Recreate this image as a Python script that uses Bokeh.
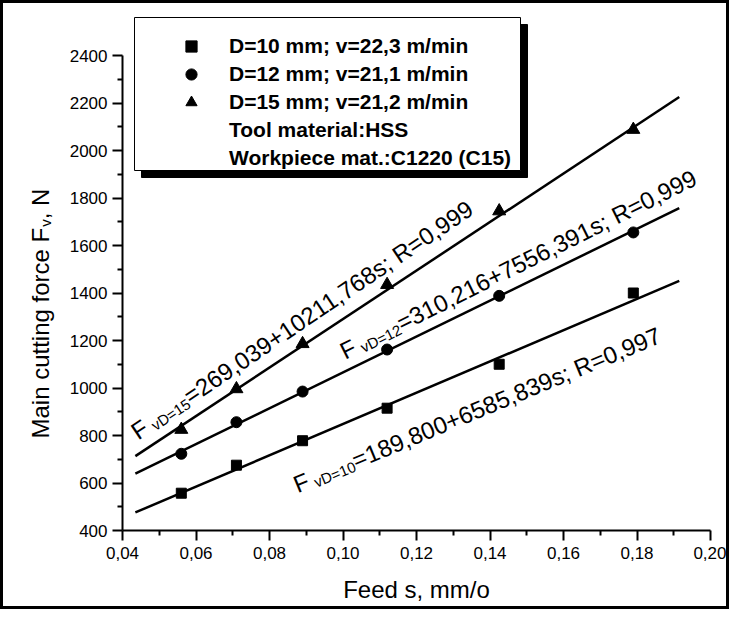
import math
from bokeh.plotting import figure
from bokeh.models import (Label, Range1d, FixedTicker, CustomJSTickFormatter,
                          Legend, LegendItem, BoxAnnotation)
from bokeh.embed import file_html
from bokeh.resources import INLINE

# ---------------- data ----------------
feed = [0.056, 0.071, 0.089, 0.112, 0.1425, 0.179]
force_d10 = [557, 675, 778, 915, 1100, 1400]
force_d12 = [723, 856, 985, 1162, 1388, 1655]
force_d15 = [825, 996, 1186, 1435, 1745, 2088]

# end points of the drawn regression lines
fit_feed = [0.0435, 0.1915]
fit_d10 = [476, 1451]
fit_d12 = [639, 1757]
fit_d15 = [713, 2225]

legend_labels = ["D=10 mm; v=22,3 m/min", "D=12 mm; v=21,1 m/min",
                 "D=15 mm; v=21,2 m/min", "Tool material:HSS",
                 "Workpiece mat.:C1220 (C15)"]

eq_subs = ["vD=10", "vD=12", "vD=15"]
eq_rests = ["=189,800+6585,839s; R=0,997",
            "=310,216+7556,391s; R=0,999",
            "=269,039+10211,768s; R=0,999"]

x_ticks = [0.04, 0.06, 0.08, 0.10, 0.12, 0.14, 0.16, 0.18, 0.20]
x_minor = [0.05, 0.07, 0.09, 0.11, 0.13, 0.15, 0.17, 0.19]
y_ticks = [400, 600, 800, 1000, 1200, 1400, 1600, 1800, 2000, 2200, 2400]
y_minor = [500, 700, 900, 1100, 1300, 1500, 1700, 1900, 2100, 2300]

x_title = "Feed s, mm/o"
y_title = ["Main cutting force F", "v", ", N"]

FONT = "Liberation Sans"

# ---------------- geometry (canvas = frame) ----------------
W, H = 729, 609          # canvas size (3px CSS border around it)
AX_L, AX_R = 119, 707    # canvas x of s=0.04 and s=0.20
AX_T, AX_B = 52, 527     # canvas y of F=2400 and F=400
XMIN, XMAX = x_ticks[0], x_ticks[-1]
YMIN, YMAX = y_ticks[0], y_ticks[-1]
kx = (AX_R - AX_L) / (XMAX - XMIN)
ky = (AX_B - AX_T) / (YMAX - YMIN)
ORG = 11  # page offset of canvas (8px margin + 3px border)


def px2s(px):   # page x -> data x
    return XMIN + (px - ORG - AX_L) / kx


def py2n(py):   # page y -> data y
    return YMIN + (AX_B - (py - ORG)) / ky


p = figure(width=W, height=H, output_backend="svg", toolbar_location=None,
           title=None,
           x_range=Range1d(XMIN - AX_L / kx, XMAX + (W - AX_R) / kx),
           y_range=Range1d(YMIN - (H - AX_B) / ky, YMAX + AX_T / ky),
           min_border=0)
p.styles = {"border": "3px solid black"}
p.outline_line_color = None
p.xgrid.visible = False
p.ygrid.visible = False
p.background_fill_color = "white"
p.border_fill_color = "white"

for ax in (p.xaxis[0], p.yaxis[0]):
    ax.axis_line_width = 2
    ax.major_tick_line_width = 2
    ax.minor_tick_line_width = 2
    ax.major_tick_out = 10
    ax.major_tick_in = 0
    ax.minor_tick_out = 5
    ax.minor_tick_in = 0
    ax.major_label_text_font = FONT
    ax.major_label_text_font_size = "17px"
    ax.major_label_text_color = "black"
    ax.axis_line_color = "black"
    ax.major_tick_line_color = "black"
    ax.minor_tick_line_color = "black"

p.xaxis.fixed_location = YMIN
p.xaxis.bounds = (XMIN, XMAX)
p.yaxis.fixed_location = XMIN
p.yaxis.bounds = (YMIN, YMAX)
p.xaxis.ticker = FixedTicker(ticks=x_ticks, minor_ticks=x_minor)
p.yaxis.ticker = FixedTicker(ticks=y_ticks, minor_ticks=y_minor)
p.xaxis.formatter = CustomJSTickFormatter(code="return tick.toFixed(2).replace('.', ',');")
p.xaxis.major_label_standoff = 6
p.yaxis.major_label_standoff = 5

p.xaxis.axis_label = x_title
p.xaxis.axis_label_text_font = FONT
p.xaxis.axis_label_text_font_size = "24px"
p.xaxis.axis_label_text_font_style = "normal"
p.xaxis.axis_label_text_color = "black"
p.xaxis.axis_label_standoff = 14

# ---------------- lines & markers ----------------
for fy in (fit_d10, fit_d12, fit_d15):
    p.line(fit_feed, fy, line_color="black", line_width=2.5)

r10 = p.scatter(feed, force_d10, marker="square", size=10, color="black")
r12 = p.scatter(feed, force_d12, marker="circle", size=11, color="black")
r15 = p.scatter(feed, force_d15, marker="triangle", size=13, color="black")
dummy = p.scatter(x=[], y=[], marker="circle", size=0, fill_alpha=0, line_alpha=0)

# ---------------- legend box with shadow ----------------
p.add_layout(BoxAnnotation(left=px2s(149), right=px2s(535), top=py2n(32), bottom=py2n(185),
                           fill_color="black", fill_alpha=1, line_color="black",
                           line_alpha=1, line_width=1))
p.add_layout(BoxAnnotation(left=px2s(142), right=px2s(528), top=py2n(25), bottom=py2n(178),
                           fill_color="white", fill_alpha=1, line_color="black",
                           line_alpha=1, line_width=1))

items = [LegendItem(label=legend_labels[0], renderers=[r10]),
         LegendItem(label=legend_labels[1], renderers=[r12]),
         LegendItem(label=legend_labels[2], renderers=[r15]),
         LegendItem(label=legend_labels[3], renderers=[dummy]),
         LegendItem(label=legend_labels[4], renderers=[dummy])]
legend = Legend(items=items, location=(161 - ORG, H - (180 - ORG)),
                orientation="vertical", padding=0, spacing=0, margin=0,
                glyph_width=76, glyph_height=28, label_height=28,
                label_standoff=0,
                label_text_font=FONT, label_text_font_style="bold",
                label_text_font_size="21px", label_text_color="black",
                border_line_color=None, background_fill_alpha=0)
p.add_layout(legend)

# ---------------- equation labels ----------------
def add_pieces(x0, y0, ang, pieces):
    a = math.radians(ang)
    ux, uy = math.cos(a), math.sin(a)
    nx, ny = math.sin(a), -math.cos(a)
    for txt, d, down, fs in pieces:
        p.add_layout(Label(x=x0, y=y0,
                           x_offset=d * ux + down * nx,
                           y_offset=d * uy + down * ny,
                           text=txt, angle=a, text_font=FONT,
                           text_font_size=fs, text_color="black",
                           text_baseline="alphabetic", text_align="left"))


eq_anchor = [(302, 493, 22.5), (349, 360, 26.5), (141, 441, 34.0)]
for (ax_, ay_, ang), sub, rest in zip(eq_anchor, eq_subs, eq_rests):
    d2 = 0.611 * 24 + 5
    d3 = d2 + 2.918 * 15
    add_pieces(px2s(ax_), py2n(ay_), ang,
               [("F", 0, 0, "24px"), (sub, d2, 5, "15px"), (rest, d3, 0, "24px")])

# y axis title (rotated, with subscript)
w1 = 8.781 * 24
add_pieces(px2s(48), py2n(446), 90, [(y_title[0], 0, 0, "24px"),
                                     (y_title[1], w1 + 1, 5, "15px"),
                                     (y_title[2], w1 + 8.5, 0, "24px")])

open("out.html", "w").write(file_html(p, INLINE))
